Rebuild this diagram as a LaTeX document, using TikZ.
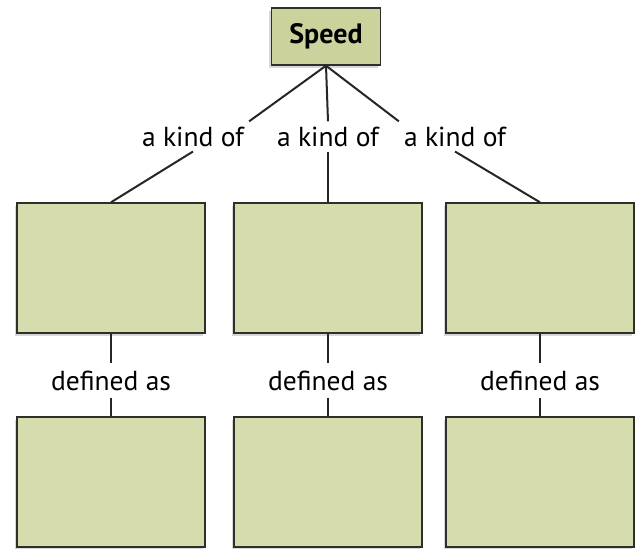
\documentclass[tikz,border=0pt]{standalone}
\usepackage{fontspec}
\setmainfont{PT Sans}
\usetikzlibrary{positioning,shadows}

\definecolor{boxgreen}{RGB}{215,220,174}
\definecolor{topgreen}{RGB}{204,210,156}
\definecolor{edgegray}{RGB}{45,48,40}

\begin{document}
\begin{tikzpicture}[x=1pt, y=-1pt,
    card/.style={draw=edgegray, line width=1.4pt, fill=boxgreen,
        minimum width=188pt, minimum height=130pt, inner sep=0pt,
        drop shadow={shadow xshift=-2.5pt, shadow yshift=-2.5pt, fill=gray!60, opacity=0.5}},
    topcard/.style={card, fill=topgreen, minimum width=109pt, minimum height=57pt},
    tag/.style={anchor=base, inner xsep=5pt, inner ysep=5pt, font=\fontsize{27.5}{32}\selectfont},
    link/.style={line width=2pt, draw=black!85}]
    \useasboundingbox (0,0) rectangle (641,549);

    % Top concept
    \node[topcard, font=\fontsize{28}{32}\selectfont\bfseries] (speed) at (326,36.5) {Speed};

    % Middle row
    \node[card] (kindA) at (111,268) {};
    \node[card] (kindB) at (328,268) {};
    \node[card] (kindC) at (540,268) {};

    % Bottom row
    \node[card] (defA) at (111,482) {};
    \node[card] (defB) at (328,482) {};
    \node[card] (defC) at (540,482) {};

    % Link labels
    \node[tag] (lkA) at (193,146) {a kind of};
    \node[tag] (lkB) at (328,146) {a kind of};
    \node[tag] (lkC) at (455,146) {a kind of};
    \node[tag, inner ysep=7pt] (ldA) at (111,390) {defined as};
    \node[tag, inner ysep=7pt] (ldB) at (328,390) {defined as};
    \node[tag, inner ysep=7pt] (ldC) at (540,390) {defined as};

    % Connectors
    \draw[link] (speed.south) -- (lkA.north east);
    \draw[link] (speed.south) -- (lkB.north);
    \draw[link] (speed.south) -- (lkC.north west);
    \draw[link] (lkA.south) -- (kindA.north);
    \draw[link] (lkB.south) -- (kindB.north);
    \draw[link] (lkC.south) -- (kindC.north);
    \draw[link] (kindA.south) -- (ldA.north);
    \draw[link] (kindB.south) -- (ldB.north);
    \draw[link] (kindC.south) -- (ldC.north);
    \draw[link] (ldA.south) -- (defA.north);
    \draw[link] (ldB.south) -- (defB.north);
    \draw[link] (ldC.south) -- (defC.north);
\end{tikzpicture}
\end{document}
